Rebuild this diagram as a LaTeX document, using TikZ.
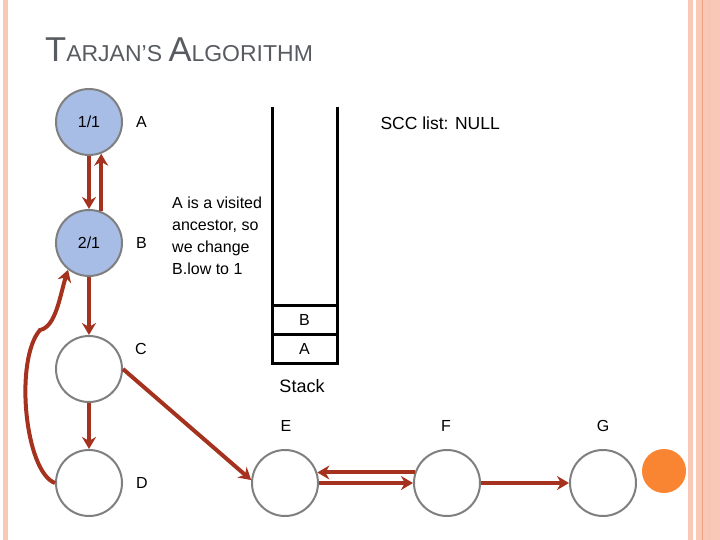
\documentclass[tikz,border=0pt]{standalone}
\usepackage{fontspec}
\setmainfont{Liberation Sans}
\usetikzlibrary{arrows.meta,positioning}
\definecolor{EdgeRed}{RGB}{165,50,30}
\definecolor{VisitBlue}{RGB}{168,189,230}
\definecolor{RimGray}{RGB}{127,127,127}
\definecolor{TitleGray}{RGB}{88,91,96}
\definecolor{BarPink}{RGB}{249,200,182}
\definecolor{BarLine}{RGB}{238,160,128}
\definecolor{DoneOrange}{RGB}{249,132,50}
\tikzset{
  vert/.style={circle,draw=RimGray,line width=2pt,minimum size=66pt,inner sep=0pt,
    font=\fontsize{16}{19}\selectfont},
  visited/.style={vert,fill=VisitBlue},
  lbl/.style={inner sep=0pt,font=\fontsize{16}{19}\selectfont},
  arrow/.style={-{Stealth[length=12pt,width=14pt]},line width=4pt,EdgeRed},
  tube/.style={line width=3pt,black}
}

\begin{document}
\begin{tikzpicture}[x=1pt,y=-1pt]
  \useasboundingbox (0,0) rectangle (720,540);
  % slide border
  \fill[BarPink] (3,0) rectangle (8,540);
  \fill[BarPink] (688,0) rectangle (693,540);
  \fill[BarPink] (696,0) rectangle (720,540);
  \draw[BarLine,line width=1.5pt] (702.5,0) -- (702.5,540);
  \draw[BarLine!60,line width=1.5pt] (709,0) -- (709,540);

  \node[anchor=base west,inner sep=0pt,text=TitleGray] (title) at (45,62)
    {\fontsize{34.5}{38}\selectfont T\fontsize{23}{27}\selectfont ARJAN’S
     \fontsize{34.5}{38}\selectfont A\fontsize{23}{27}\selectfont LGORITHM};

  % graph
  \node[visited] (A) at (89,122) {1/1};
  \node[visited] (B) at (89,243) {2/1};
  \node[vert] (C) at (89,369) {};
  \node[vert] (D) at (89,483) {};
  \node[vert] (E) at (285,483) {};
  \node[vert] (F) at (447,483) {};
  \node[vert] (G) at (603,483) {};
  \node[circle,fill=DoneOrange,minimum size=44pt,inner sep=0pt] (done) at (664,471) {};

  \node[lbl,right=13pt of A] (labA) {A};
  \node[lbl,right=13pt of B] (labB) {B};
  \node[lbl] (labC) at (141,349) {C};
  \node[lbl,right=13pt of D] (labD) {D};
  \node[lbl] (labE) at (286,426) {E};
  \node[lbl] (labF) at (446,426) {F};
  \node[lbl] (labG) at (603,426) {G};

  \node[lbl,anchor=west,align=left,font=\fontsize{16}{22}\selectfont] (note) at (172,236)
    {A is a visited\\ancestor, so\\we change\\B.low to 1};
  \node[lbl,anchor=east,font=\fontsize{17.5}{20}\selectfont] (scc) at (500,123) {SCC list: NULL};

  % stack
  \draw[tube] (272,107) -- (272,363) -- (337,363) -- (337,107);
  \draw[tube] (272,305) -- (337,305);
  \draw[tube] (272,334) -- (337,334);
  \node[lbl] (stkB) at (304.5,320) {B};
  \node[lbl] (stkA) at (304.5,349) {A};
  \node[lbl,font=\fontsize{18}{21}\selectfont] (stack) at (302,386) {Stack};

  \draw[arrow] (A) -- (B);
  \draw[arrow] (B.69) -- (A.-69);
  \draw[arrow] (B) -- (C);
  \draw[arrow] (C) -- (D);
  \draw[arrow] (D.west) .. controls (25,472) and (14,360) .. (40,330)
    .. controls (56,327) and (60,295) .. (B.232);
  \draw[arrow] (C.east) -- (E.175);
  \draw[arrow] (E) -- (F);
  \draw[arrow] (F.162) -- (E.18);
  \draw[arrow] (F) -- (G);
\end{tikzpicture}
\end{document}
